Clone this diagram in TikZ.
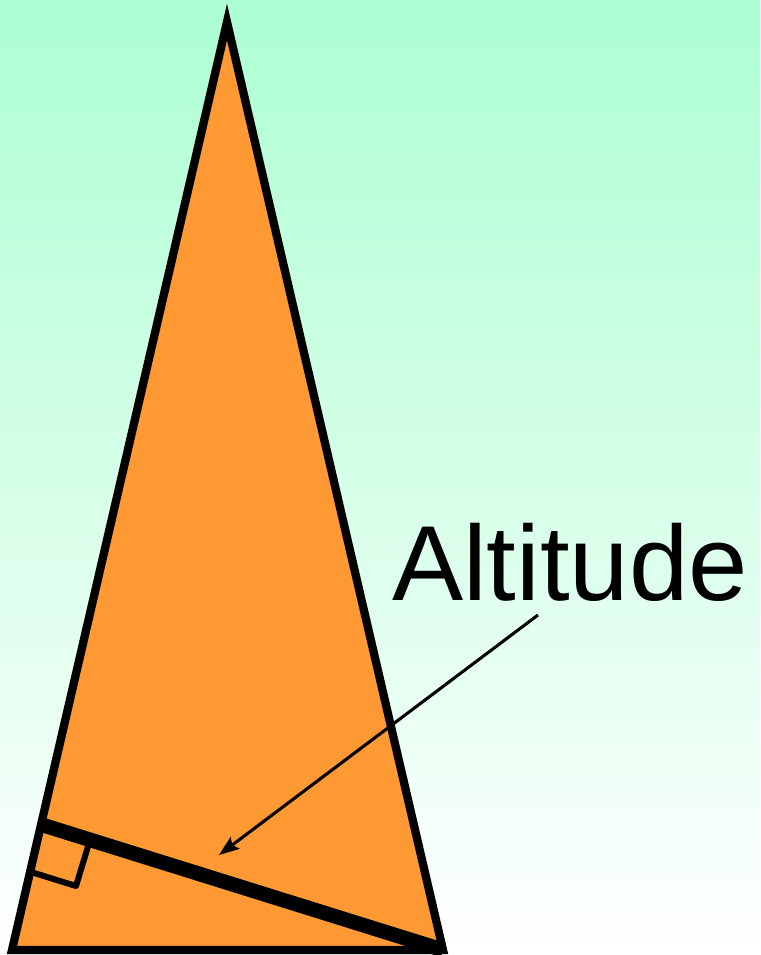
\documentclass[tikz,border=0pt]{standalone}
\usepackage{fontspec}
\setmainfont{Liberation Sans}
\usetikzlibrary{arrows.meta}
\definecolor{mint}{RGB}{172,255,210}
\definecolor{tri}{RGB}{255,153,51}
\tikzset{
  edge/.style={line width=6.2pt, line join=miter},
  altline/.style={line width=11pt, line cap=butt},
  rmark/.style={line width=4.5pt, line join=round},
  pointer/.style={line width=2.3pt, -{Stealth[length=15pt,width=11pt,inset=2.5pt]}},
  label/.style={font=\fontsize{80}{90}\selectfont, anchor=base, inner sep=0pt}
}
\begin{document}
\begin{tikzpicture}[x=0.75pt,y=-0.75pt]
\useasboundingbox (0,0) rectangle (760,955);
\shade[top color=mint, bottom color=white] (0,0) rectangle (760,955);
\coordinate (apex) at (227,22);
\coordinate (bl) at (12,950);
\coordinate (br) at (443,950);
\coordinate (foot) at (41,824.5);
\coordinate (ma) at (90,840);
\coordinate (mb) at (76,886);
\coordinate (mc) at (31,872);
\fill[tri] (apex) -- (bl) -- (br) -- cycle;
\draw[altline] (foot) -- (br);
\draw[rmark] (ma) -- (mb) -- (mc);
\draw[edge] (apex) -- (bl) -- (br) -- cycle;
\node[label] (txt) at (570,600) {Altitude};
\coordinate (tail) at (538,615);
\coordinate (tip) at (219,855);
\draw[pointer] (tail) -- (tip);
\end{tikzpicture}
\end{document}
